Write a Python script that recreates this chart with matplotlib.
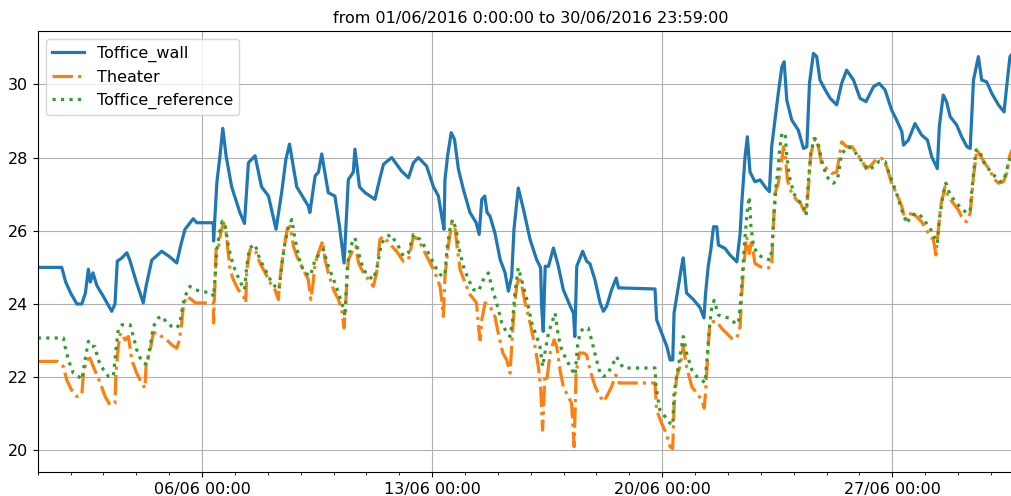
import pandas as pd
import matplotlib.pyplot as plt
import matplotlib.dates as mdates

# days since 01/06/2016 00:00 and temperature
wall_day = [0.0, 0.73, 0.85, 1.0, 1.19, 1.34, 1.45, 1.54, 1.6, 1.68, 1.8, 2.0, 2.25, 2.35, 2.42, 2.55, 2.71, 2.8,
            3.0, 3.21, 3.3, 3.47, 3.6, 3.77, 4.0, 4.23, 4.35, 4.48, 4.73, 4.84, 5.34, 5.35, 5.45, 5.55, 5.63, 5.73,
            5.9, 6.15, 6.29, 6.41, 6.61, 6.81, 7.02, 7.25, 7.42, 7.55, 7.66, 7.88, 8.23, 8.28, 8.44, 8.54, 8.64,
            8.84, 9.04, 9.18, 9.32, 9.45, 9.6, 9.65, 9.79, 9.96, 10.26, 10.4, 10.52, 10.77, 11.07, 11.28, 11.43,
            11.58, 11.83, 12.04, 12.19, 12.29, 12.36, 12.39, 12.47, 12.58, 12.68, 12.8, 12.95, 13.15, 13.34, 13.43,
            13.51, 13.6, 13.67, 13.76, 13.91, 14.07, 14.22, 14.32, 14.42, 14.49, 14.62, 14.78, 14.98, 15.18, 15.3,
            15.33, 15.38, 15.44, 15.54, 15.69, 15.84, 15.99, 16.2, 16.3, 16.34, 16.4, 16.58, 16.7, 16.8, 16.95,
            17.11, 17.21, 17.31, 17.46, 17.6, 17.67, 18.78, 18.83, 18.98, 19.14, 19.24, 19.32, 19.36, 19.46, 19.59,
            19.64, 19.74, 19.95, 20.15, 20.27, 20.32, 20.4, 20.48, 20.56, 20.66, 20.71, 20.91, 21.06, 21.27, 21.37,
            21.42, 21.52, 21.59, 21.67, 21.82, 21.98, 22.13, 22.26, 22.33, 22.43, 22.53, 22.64, 22.71, 22.79, 22.94,
            23.14, 23.3, 23.4, 23.48, 23.6, 23.7, 23.8, 23.96, 24.11, 24.31, 24.46, 24.61, 24.82, 25.02, 25.2, 25.43,
            25.6, 25.78, 25.98, 26.13, 26.29, 26.34, 26.49, 26.69, 26.89, 27.07, 27.2, 27.37, 27.43, 27.55, 27.65,
            27.76, 27.96, 28.11, 28.27, 28.37, 28.47, 28.62, 28.72, 28.87, 29.03, 29.23, 29.4, 29.48, 29.58, 29.66]
wall_val = [25.0, 25.0, 24.6, 24.3, 24.0, 24.0, 24.3, 24.95, 24.6, 24.85, 24.5, 24.2, 23.8, 24.0, 25.17, 25.25, 25.4,
            25.2, 24.6, 24.03, 24.5, 25.2, 25.3, 25.44, 25.3, 25.12, 25.6, 26.04, 26.33, 26.22, 26.22, 25.72, 27.32,
            28.1, 28.8, 28.05, 27.2, 26.5, 26.2, 27.86, 28.05, 27.2, 26.95, 26.04, 27.04, 27.95, 28.37, 27.2, 26.68,
            26.5, 27.5, 27.6, 28.1, 27.04, 26.95, 26.13, 25.12, 27.4, 27.6, 28.23, 27.2, 27.04, 26.86, 27.4, 27.82,
            28.0, 27.63, 27.45, 27.86, 28.0, 27.77, 27.2, 26.95, 26.4, 26.04, 27.4, 28.05, 28.68, 28.5, 27.68, 27.13,
            26.5, 26.22, 25.9, 26.86, 26.95, 26.5, 26.4, 25.94, 25.21, 24.85, 24.35, 24.76, 26.04, 27.17, 26.58,
            25.76, 25.21, 24.99, 23.94, 23.25, 25.03, 25.03, 25.53, 25.03, 24.39, 23.94, 23.75, 23.11, 25.03, 25.44,
            25.17, 25.1, 24.67, 24.03, 23.8, 23.94, 24.39, 24.71, 24.44, 24.41, 23.57, 23.21, 22.84, 22.47, 22.47,
            23.75, 24.3, 25.03, 25.26, 24.3, 24.12, 23.9, 23.62, 24.3, 25.03, 25.49, 26.11, 26.11, 25.61, 25.52,
            25.34, 25.15, 25.93, 26.75, 28.02, 28.57, 27.61, 27.34, 27.39, 27.2, 27.07, 28.3, 29.03, 29.75, 30.48,
            30.62, 29.57, 29.03, 28.75, 28.25, 28.3, 30.03, 30.85, 30.76, 30.12, 29.85, 29.62, 29.44, 30.03, 30.39,
            30.12, 29.62, 29.53, 29.94, 30.03, 29.85, 29.3, 29.03, 28.71, 28.34, 28.48, 28.93, 28.62, 28.48, 28.02,
            27.7, 28.84, 29.71, 29.53, 29.12, 28.89, 28.57, 28.3, 28.25, 30.12, 30.76, 30.12, 30.07, 29.75, 29.44,
            29.25, 29.94, 30.76, 30.85]

theater_day = [0.0, 0.6, 0.78, 0.88, 1.03, 1.19, 1.34, 1.39, 1.49, 1.59, 1.69, 1.9, 2.05, 2.2, 2.35, 2.38, 2.45, 2.52,
               2.66, 2.76, 2.86, 3.01, 3.16, 3.26, 3.3, 3.42, 3.52, 3.67, 3.77, 3.92, 4.07, 4.23, 4.31, 4.38, 4.43,
               4.53, 4.68, 4.79, 5.34, 5.35, 5.43, 5.5, 5.57, 5.65, 5.73, 5.85, 5.95, 6.1, 6.26, 6.33, 6.36, 6.46,
               6.61, 6.76, 6.92, 7.07, 7.22, 7.32, 7.37, 7.47, 7.59, 7.68, 7.78, 7.88, 8.08, 8.23, 8.31, 8.37, 8.44,
               8.54, 8.67, 8.74, 8.84, 9.0, 9.15, 9.25, 9.32, 9.45, 9.6, 9.68, 9.76, 9.91, 10.06, 10.21, 10.31, 10.41,
               10.51, 10.72, 10.92, 11.12, 11.28, 11.43, 11.58, 11.73, 11.94, 12.09, 12.24, 12.29, 12.34, 12.39,
               12.49, 12.6, 12.7, 12.77, 12.85, 13.0, 13.15, 13.35, 13.41, 13.46, 13.51, 13.61, 13.76, 13.91, 14.01,
               14.15, 14.27, 14.37, 14.47, 14.57, 14.65, 14.73, 14.83, 14.98, 15.13, 15.23, 15.3, 15.36, 15.43, 15.49,
               15.59, 15.71, 15.79, 15.89, 15.99, 16.14, 16.24, 16.32, 16.38, 16.48, 16.6, 16.7, 16.8, 16.96, 17.11,
               17.21, 17.31, 17.46, 17.59, 17.69, 18.78, 18.83, 18.98, 19.12, 19.24, 19.32, 19.36, 19.44, 19.54,
               19.64, 19.74, 19.9, 20.05, 20.2, 20.28, 20.33, 20.4, 20.45, 20.56, 20.66, 20.81, 20.96, 21.11, 21.27,
               21.37, 21.42, 21.47, 21.57, 21.65, 21.72, 21.82, 21.98, 22.18, 22.33, 22.38, 22.43, 22.53, 22.61,
               22.69, 22.74, 22.81, 22.94, 23.09, 23.21, 23.3, 23.38, 23.45, 23.52, 23.65, 23.75, 23.85, 24.0, 24.16,
               24.31, 24.46, 24.61, 24.77, 24.92, 25.07, 25.2, 25.37, 25.5, 25.68, 25.83, 25.98, 26.13, 26.29, 26.39,
               26.49, 26.69, 26.89, 27.1, 27.25, 27.33, 27.4, 27.47, 27.6, 27.7, 27.86, 28.01, 28.16, 28.26, 28.37,
               28.47, 28.57, 28.67, 28.82, 28.97, 29.08, 29.23, 29.38, 29.48, 29.56, 29.66]
theater_val = [22.43, 22.43, 22.29, 21.93, 21.65, 21.47, 21.52, 22.11, 22.47, 22.52, 22.29, 21.84, 21.47, 21.24, 21.29,
               22.11, 22.84, 23.21, 23.02, 23.11, 22.47, 22.11, 21.84, 21.7, 22.38, 22.75, 23.21, 23.21, 23.11, 23.02,
               22.89, 22.79, 23.02, 23.48, 23.94, 24.21, 24.12, 24.03, 24.03, 23.48, 25.58, 25.55, 25.95, 26.22, 25.95,
               24.94, 24.67, 24.39, 24.21, 24.03, 24.94, 25.49, 25.49, 25.12, 24.85, 24.58, 24.39, 24.12, 24.67, 25.4,
               26.04, 26.13, 25.58, 25.31, 24.94, 24.67, 24.12, 24.5, 25.12, 25.4, 25.72, 25.21, 24.85, 24.39, 24.12,
               23.84, 23.34, 25.21, 25.49, 25.58, 25.12, 24.85, 24.67, 24.48, 24.85, 25.76, 25.85, 25.63, 25.44, 25.17,
               25.21, 25.85, 25.76, 25.49, 25.12, 24.85, 24.48, 24.12, 23.66, 24.76, 25.58, 26.22, 26.04, 25.49, 24.94,
               24.58, 24.26, 24.03, 23.39, 23.02, 23.57, 24.03, 23.94, 23.66, 23.21, 22.66, 22.47, 22.11, 23.57, 24.48,
               24.76, 24.48, 24.03, 23.48, 22.84, 22.29, 21.74, 20.55, 22.02, 21.93, 22.66, 23.02, 22.84, 22.2, 21.74,
               21.47, 21.29, 20.1, 22.11, 22.66, 22.66, 22.61, 22.2, 21.74, 21.47, 21.33, 21.47, 21.74, 22.06, 21.84,
               21.84, 21.1, 20.74, 20.47, 20.1, 20.05, 21.2, 22.02, 22.29, 22.84, 22.29, 21.74, 21.56, 21.38, 21.15,
               21.74, 22.84, 23.48, 23.52, 23.52, 23.33, 23.2, 23.06, 23.06, 23.38, 24.29, 24.93, 25.84, 25.38, 25.75,
               25.11, 25.02, 24.97, 25.02, 26.11, 27.02, 27.3, 27.75, 28.3, 28.1, 27.39, 27.02, 26.84, 26.75, 26.57,
               26.48, 27.2, 28.11, 28.52, 28.3, 27.84, 27.7, 27.57, 27.6, 28.43, 28.3, 28.3, 28.11, 27.93, 27.7, 27.8,
               27.95, 27.98, 27.75, 27.3, 27.02, 26.66, 26.29, 26.48, 26.43, 26.25, 25.93, 25.75, 25.34, 26.02, 26.66,
               27.2, 26.93, 26.75, 26.57, 26.29, 26.25, 26.48, 27.48, 28.21, 28.07, 27.84, 27.66, 27.43, 27.3, 27.34,
               27.57, 28.02, 28.25]

ref_day = [0.0, 0.78, 0.83, 0.93, 1.08, 1.24, 1.34, 1.44, 1.54, 1.64, 1.74, 1.84, 2.0, 2.15, 2.3, 2.38, 2.45, 2.56,
           2.81, 2.91, 3.01, 3.16, 3.32, 3.42, 3.52, 3.67, 3.8, 3.92, 4.07, 4.23, 4.33, 4.41, 4.48, 4.63, 4.79, 4.94,
           5.3, 5.35, 5.39, 5.45, 5.53, 5.61, 5.7, 5.8, 5.9, 6.0, 6.15, 6.29, 6.36, 6.44, 6.61, 6.76, 6.92, 7.07,
           7.22, 7.34, 7.42, 7.52, 7.63, 7.73, 7.83, 7.98, 8.13, 8.29, 8.44, 8.59, 8.69, 8.84, 9.0, 9.15, 9.28, 9.35,
           9.42, 9.52, 9.65, 9.76, 9.91, 10.06, 10.21, 10.33, 10.46, 10.72, 10.92, 11.12, 11.28, 11.43, 11.63, 11.83,
           11.99, 12.14, 12.29, 12.39, 12.46, 12.54, 12.62, 12.73, 12.8, 12.95, 13.1, 13.26, 13.41, 13.56, 13.71,
           13.81, 13.96, 14.12, 14.27, 14.37, 14.45, 14.52, 14.62, 14.72, 14.88, 15.03, 15.18, 15.28, 15.36, 15.43,
           15.54, 15.64, 15.74, 15.84, 15.94, 16.09, 16.25, 16.35, 16.42, 16.5, 16.6, 16.75, 16.85, 17.0, 17.11,
           17.21, 17.31, 17.46, 17.61, 17.72, 17.82, 18.78, 18.81, 18.93, 19.09, 19.24, 19.32, 19.36, 19.44, 19.54,
           19.64, 19.74, 19.9, 20.05, 20.2, 20.3, 20.36, 20.44, 20.51, 20.58, 20.71, 20.86, 21.06, 21.22, 21.32,
           21.39, 21.45, 21.52, 21.59, 21.65, 21.7, 21.78, 21.93, 22.09, 22.29, 22.34, 22.39, 22.46, 22.52, 22.57,
           22.64, 22.74, 22.79, 22.87, 23.0, 23.14, 23.3, 23.38, 23.45, 23.52, 23.62, 23.72, 23.85, 24.0, 24.21,
           24.33, 24.46, 24.66, 24.82, 24.97, 25.12, 25.28, 25.43, 25.6, 25.78, 25.94, 26.13, 26.29, 26.44, 26.59,
           26.8, 27.0, 27.15, 27.3, 27.37, 27.43, 27.53, 27.63, 27.76, 27.96, 28.11, 28.27, 28.37, 28.45, 28.55,
           28.65, 28.77, 28.92, 29.13, 29.28, 29.4, 29.48, 29.56, 29.66]
ref_val = [23.07, 23.07, 22.84, 22.47, 22.11, 22.02, 21.93, 22.47, 22.98, 22.84, 22.84, 22.47, 22.2, 22.02, 22.02,
           22.75, 23.3, 23.43, 23.43, 23.11, 22.75, 22.43, 22.34, 22.84, 23.39, 23.62, 23.66, 23.48, 23.39, 23.34,
           23.48, 23.94, 24.21, 24.48, 24.39, 24.35, 24.3, 24.2, 24.67, 25.49, 25.95, 26.26, 26.13, 25.58, 25.21,
           24.94, 24.62, 24.39, 25.03, 25.53, 25.63, 25.21, 24.94, 24.67, 24.48, 24.39, 25.03, 25.67, 26.13, 26.31,
           25.76, 25.12, 24.85, 24.76, 25.21, 25.4, 25.49, 25.03, 24.67, 24.3, 23.94, 23.66, 25.03, 25.58, 25.81,
           25.4, 24.94, 24.76, 24.67, 25.03, 25.67, 25.9, 25.67, 25.31, 25.4, 25.9, 25.76, 25.49, 25.21, 24.94, 24.76,
           24.8, 25.58, 26.04, 26.31, 26.04, 25.58, 25.03, 24.67, 24.39, 24.35, 24.67, 24.85, 24.48, 24.03, 23.48,
           23.21, 23.11, 23.57, 24.3, 24.99, 24.67, 24.12, 23.48, 23.11, 22.84, 22.29, 22.66, 23.21, 23.48, 23.75,
           23.11, 22.75, 22.47, 22.2, 22.06, 22.84, 23.21, 23.34, 23.34, 23.02, 22.47, 22.11, 22.02, 22.06, 22.29,
           22.56, 22.38, 22.25, 22.25, 21.74, 21.1, 20.92, 20.74, 20.69, 21.56, 22.02, 22.56, 23.11, 22.66, 22.2,
           22.02, 21.93, 21.84, 22.47, 23.39, 23.94, 24.1, 23.7, 23.65, 23.61, 23.47, 23.47, 24.11, 24.93, 25.84,
           26.57, 26.93, 26.11, 25.56, 25.34, 25.25, 25.2, 25.56, 26.29, 27.2, 27.66, 28.21, 28.66, 28.66, 28.02,
           27.48, 27.02, 26.84, 26.66, 26.43, 27.39, 28.11, 28.52, 28.48, 27.93, 27.48, 27.3, 27.39, 28.11, 28.3,
           28.21, 28.02, 27.84, 27.66, 27.75, 27.9, 27.89, 27.48, 27.02, 26.57, 26.2, 26.43, 26.48, 26.25, 26.07,
           25.79, 25.66, 26.29, 26.93, 27.3, 26.98, 26.75, 26.61, 26.48, 26.57, 27.39, 28.21, 28.21, 27.89, 27.7,
           27.48, 27.34, 27.39, 27.66, 27.93, 28.07]

start = pd.Timestamp("2016-06-01 00:00")
end = pd.Timestamp("2016-06-30 23:59")

def to_time(days):
    return start + pd.to_timedelta(days, unit="D")

fig = plt.figure(figsize=(10.12, 4.96), dpi=100)
# the original image is cut off on the right, so the axes runs past the edge
ax = fig.add_axes([0.0373, 0.0478, 0.9743, 0.8897])

ax.plot(to_time(wall_day), wall_val, color="#1f77b4", lw=2.3, ls="-", label="Toffice_wall")
ax.plot(to_time(theater_day), theater_val, color="#ff7f0e", lw=2.3, ls="-.", label="Theater")
ax.plot(to_time(ref_day), ref_val, color="#2ca02c", lw=2.3, ls=":", label="Toffice_reference")

ax.set_xlim(start, end)
ax.set_ylim(19.4, 31.46)
ax.set_yticks([20, 22, 24, 26, 28, 30])

ax.xaxis.set_major_locator(mdates.WeekdayLocator(byweekday=mdates.MO))
ax.xaxis.set_major_formatter(mdates.DateFormatter("%d/%m %H:%M"))
ax.xaxis.set_minor_locator(mdates.DayLocator())
ax.tick_params(axis="both", which="major", labelsize=11.5)
ax.grid(True, which="major", color="#b0b0b0", lw=0.8)

ax.set_title("from 01/06/2016 0:00:00 to 30/06/2016 23:59:00", fontsize=11.5)
ax.legend(loc="upper left", fontsize=11.5)

fig.savefig("out.png", dpi=100)
